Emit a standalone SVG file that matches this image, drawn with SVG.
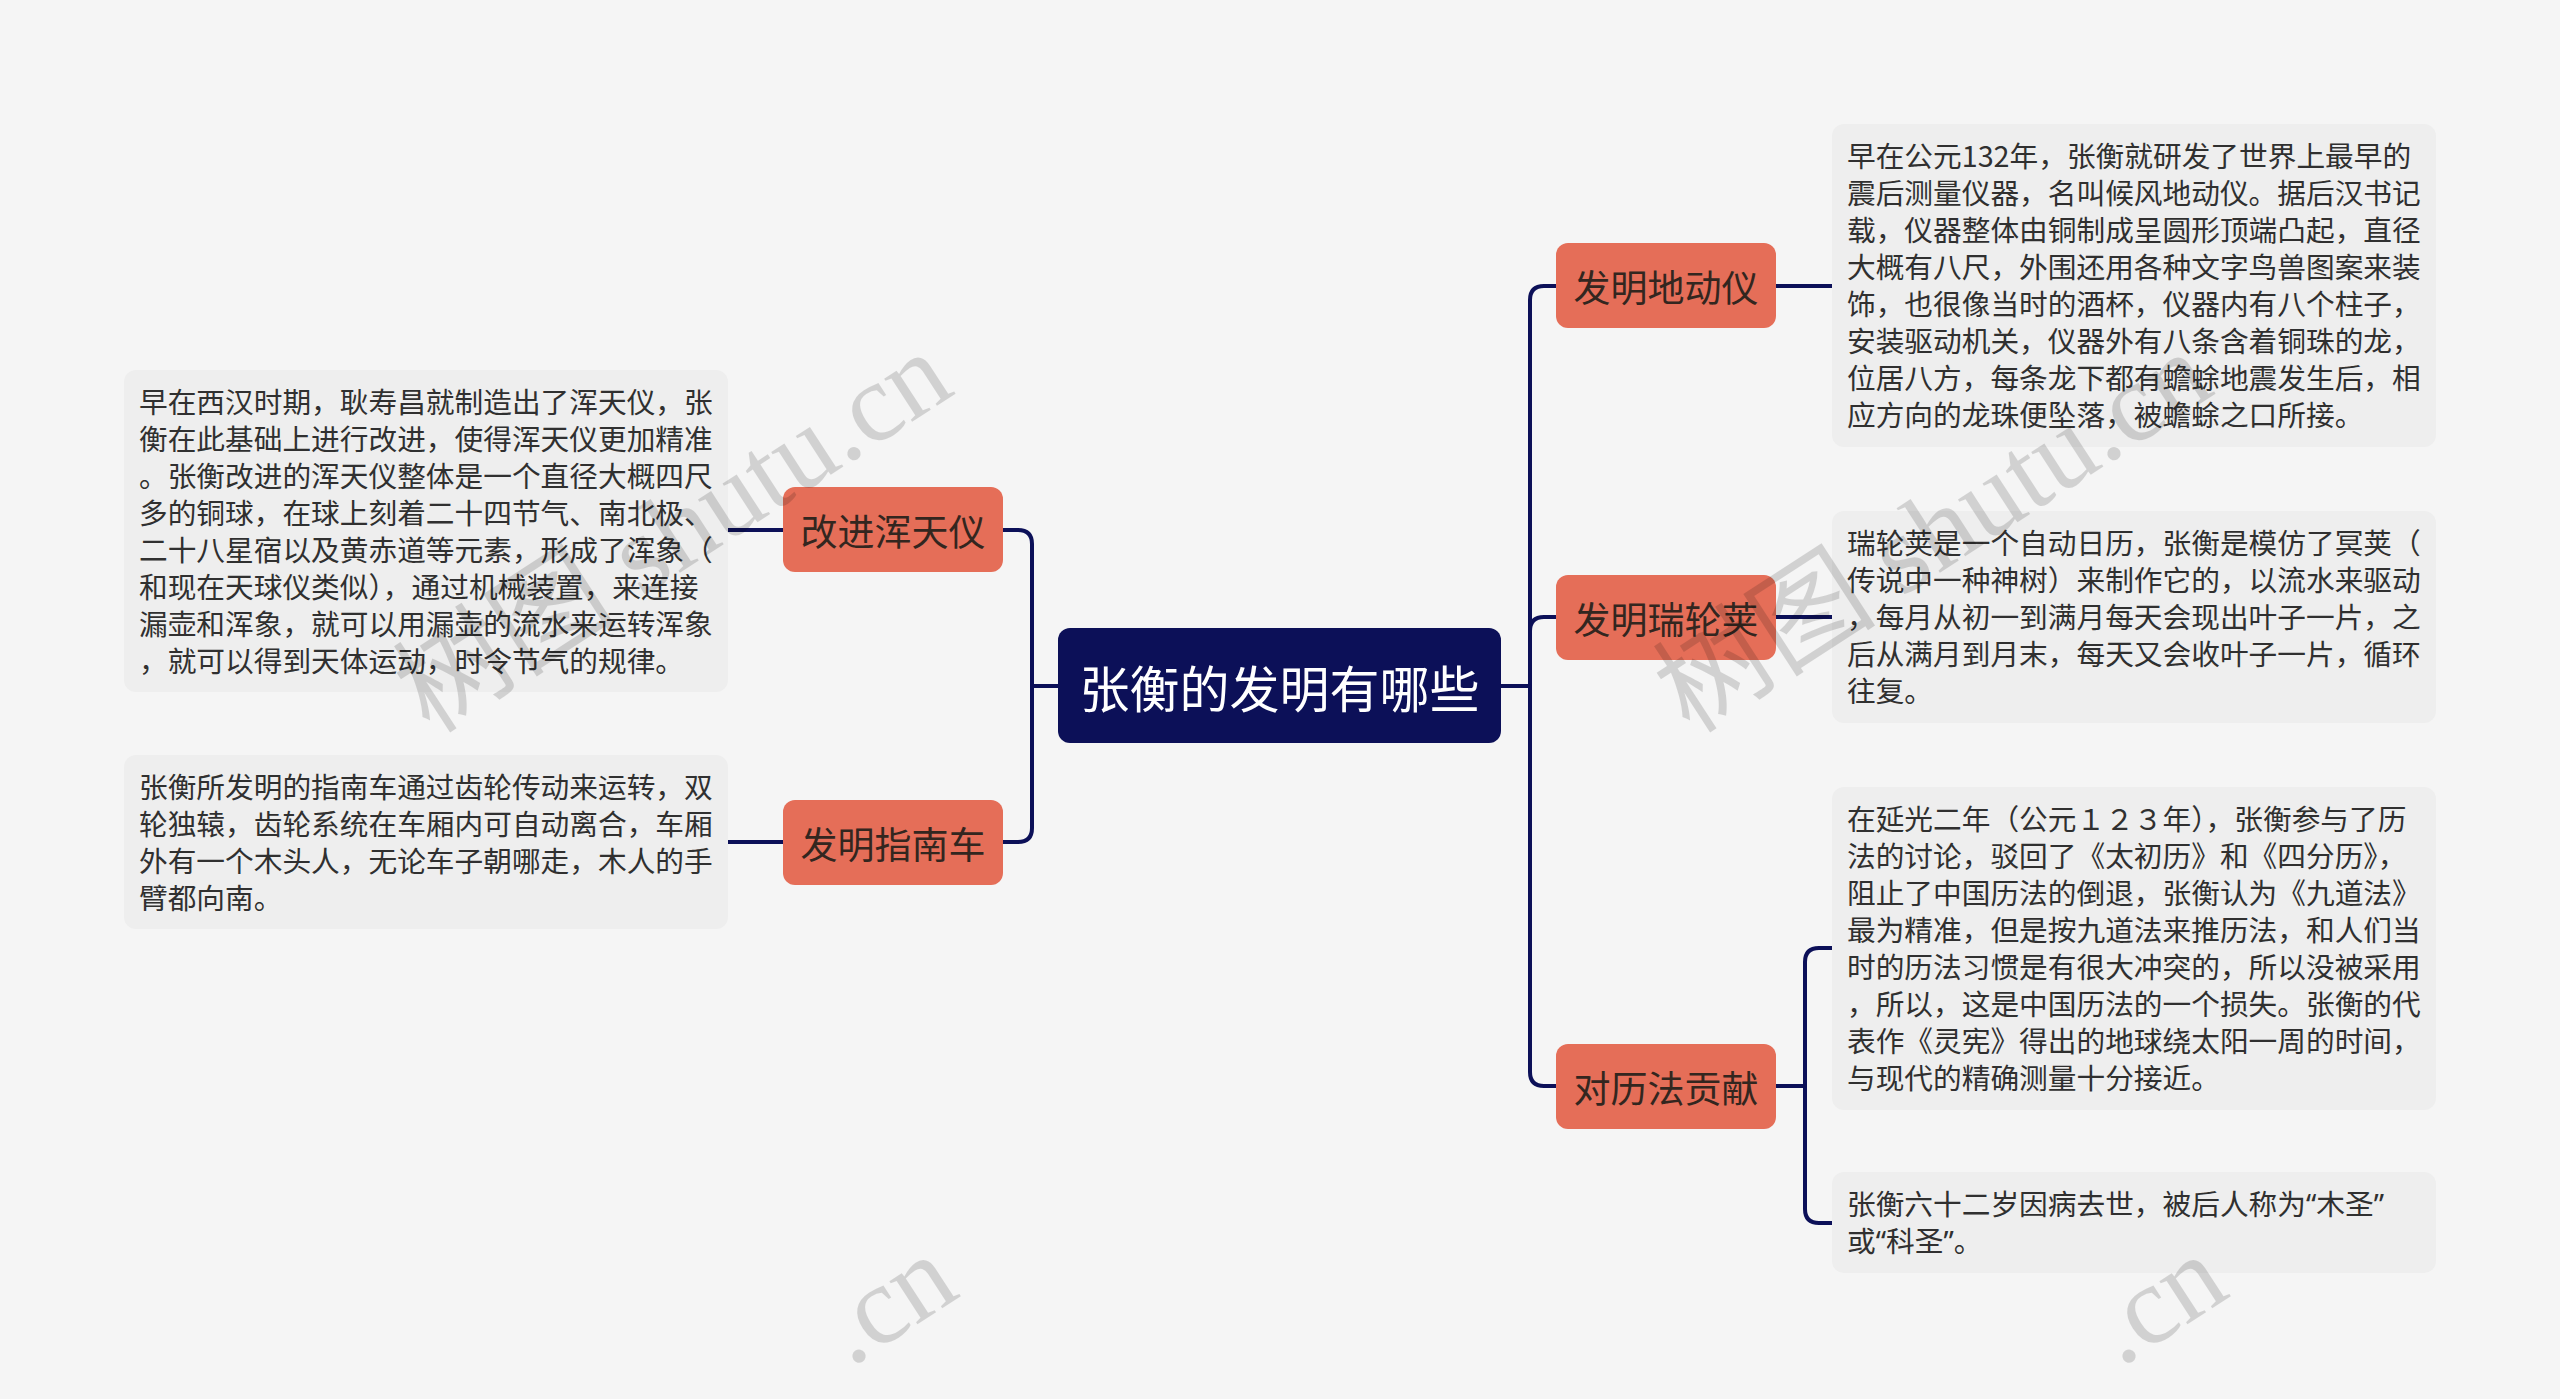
<svg xmlns="http://www.w3.org/2000/svg" width="2560" height="1399" viewBox="0 0 2560 1399">
<style>
.bg{fill:#f5f5f5}
.box{fill:#eeeeee}
.bt{font-family:"Noto Sans CJK SC","Noto Sans",sans-serif;font-size:28.7px;fill:#303030}
.q{font-family:"Noto Sans","Noto Sans CJK SC",sans-serif}
.node rect{fill:#e56e58}
.nt{font-family:"Noto Sans CJK SC","Noto Sans",sans-serif;font-size:37px;fill:#33261f;text-anchor:middle;dominant-baseline:central}
.ct{font-family:"Noto Sans CJK SC","Noto Sans",sans-serif;font-size:50px;fill:#ffffff;text-anchor:middle;dominant-baseline:central}
.ln{fill:none;stroke:#0c1058;stroke-width:4;stroke-linecap:round;stroke-linejoin:round}
.wm{font-family:"Liberation Serif","Noto Sans CJK SC",serif;font-size:112px;fill:#000;opacity:0.14}
</style>
<rect class="bg" x="0" y="0" width="2560" height="1399"/>

<g id="connectors">
<path class="ln" d="M1058,686 H1032"/>
<path class="ln" d="M1032,686 V544 Q1032,530 1018,530 H1003"/>
<path class="ln" d="M1032,686 V828 Q1032,842 1018,842 H1003"/>
<path class="ln" d="M783,530 H728"/>
<path class="ln" d="M783,842 H728"/>
<path class="ln" d="M1500,686 H1530"/>
<path class="ln" d="M1530,686 V300 Q1530,286 1544,286 H1556"/>
<path class="ln" d="M1530,686 V631 Q1530,617 1544,617 H1556"/>
<path class="ln" d="M1530,686 V1072 Q1530,1086 1544,1086 H1556"/>
<path class="ln" d="M1776,286 H1832"/>
<path class="ln" d="M1776,617 H1832"/>
<path class="ln" d="M1776,1086 H1805"/>
<path class="ln" d="M1805,1086 V962 Q1805,948 1819,948 H1832"/>
<path class="ln" d="M1805,1086 V1209 Q1805,1223 1819,1223 H1832"/>
</g>

<g id="root">
<rect x="1058" y="628" width="443" height="115" rx="12" fill="#0c1058"/>
<text class="ct" x="1279.5" y="686">张衡的发明有哪些</text>
</g>

<g id="n-huntianyi" class="node">
<rect x="783" y="487" width="220" height="85" rx="12"/>
<text class="nt" x="893" y="530">改进浑天仪</text>
</g>
<g id="n-zhinanche" class="node">
<rect x="783" y="800" width="220" height="85" rx="12"/>
<text class="nt" x="893" y="843">发明指南车</text>
</g>
<g id="n-didongyi" class="node">
<rect x="1556" y="243" width="220" height="85" rx="12"/>
<text class="nt" x="1666" y="286">发明地动仪</text>
</g>
<g id="n-ruilunjia" class="node">
<rect x="1556" y="575" width="220" height="85" rx="12"/>
<text class="nt" x="1666" y="618">发明瑞轮荚</text>
</g>
<g id="n-lifa" class="node">
<rect x="1556" y="1044" width="220" height="85" rx="12"/>
<text class="nt" x="1666" y="1087">对历法贡献</text>
</g>

<g id="d-huntianyi">
<rect class="box" x="124" y="370" width="604" height="322" rx="12"/>
<text class="bt">
<tspan x="139" y="413">早在西汉时期，耿寿昌就制造出了浑天仪，张</tspan>
<tspan x="139" y="450">衡在此基础上进行改进，使得浑天仪更加精准</tspan>
<tspan x="139" y="487">。张衡改进的浑天仪整体是一个直径大概四尺</tspan>
<tspan x="139" y="524">多的铜球，在球上刻着二十四节气、南北极、</tspan>
<tspan x="139" y="561">二十八星宿以及黄赤道等元素，形成了浑象（</tspan>
<tspan x="139" y="598">和现在天球仪类似），通过机械装置，来连接</tspan>
<tspan x="139" y="635">漏壶和浑象，就可以用漏壶的流水来运转浑象</tspan>
<tspan x="139" y="672">，就可以得到天体运动，时令节气的规律。</tspan>
</text>
</g>

<g id="d-zhinanche">
<rect class="box" x="124" y="755" width="604" height="174" rx="12"/>
<text class="bt">
<tspan x="139" y="798">张衡所发明的指南车通过齿轮传动来运转，双</tspan>
<tspan x="139" y="835">轮独辕，齿轮系统在车厢内可自动离合，车厢</tspan>
<tspan x="139" y="872">外有一个木头人，无论车子朝哪走，木人的手</tspan>
<tspan x="139" y="909">臂都向南。</tspan>
</text>
</g>

<g id="d-didongyi">
<rect class="box" x="1832" y="124" width="604" height="323" rx="12"/>
<text class="bt">
<tspan x="1847" y="167">早在公元132年，张衡就研发了世界上最早的</tspan>
<tspan x="1847" y="204">震后测量仪器，名叫候风地动仪。据后汉书记</tspan>
<tspan x="1847" y="241">载，仪器整体由铜制成呈圆形顶端凸起，直径</tspan>
<tspan x="1847" y="278">大概有八尺，外围还用各种文字鸟兽图案来装</tspan>
<tspan x="1847" y="315">饰，也很像当时的酒杯，仪器内有八个柱子，</tspan>
<tspan x="1847" y="352">安装驱动机关，仪器外有八条含着铜珠的龙，</tspan>
<tspan x="1847" y="389">位居八方，每条龙下都有蟾蜍地震发生后，相</tspan>
<tspan x="1847" y="426">应方向的龙珠便坠落，被蟾蜍之口所接。</tspan>
</text>
</g>

<g id="d-ruilunjia">
<rect class="box" x="1832" y="511" width="604" height="212" rx="12"/>
<text class="bt">
<tspan x="1847" y="554">瑞轮荚是一个自动日历，张衡是模仿了冥荚（</tspan>
<tspan x="1847" y="591">传说中一种神树）来制作它的，以流水来驱动</tspan>
<tspan x="1847" y="628">，每月从初一到满月每天会现出叶子一片，之</tspan>
<tspan x="1847" y="665">后从满月到月末，每天又会收叶子一片，循环</tspan>
<tspan x="1847" y="702">往复。</tspan>
</text>
</g>

<g id="d-lifa">
<rect class="box" x="1832" y="787" width="604" height="323" rx="12"/>
<text class="bt">
<tspan x="1847" y="830">在延光二年（公元１２３年），张衡参与了历</tspan>
<tspan x="1847" y="867">法的讨论，驳回了《太初历》和《四分历》，</tspan>
<tspan x="1847" y="904">阻止了中国历法的倒退，张衡认为《九道法》</tspan>
<tspan x="1847" y="941">最为精准，但是按九道法来推历法，和人们当</tspan>
<tspan x="1847" y="978">时的历法习惯是有很大冲突的，所以没被采用</tspan>
<tspan x="1847" y="1015">，所以，这是中国历法的一个损失。张衡的代</tspan>
<tspan x="1847" y="1052">表作《灵宪》得出的地球绕太阳一周的时间，</tspan>
<tspan x="1847" y="1089">与现代的精确测量十分接近。</tspan>
</text>
</g>

<g id="d-kesheng">
<rect class="box" x="1832" y="1172" width="604" height="101" rx="12"/>
<text class="bt">
<tspan x="1847" y="1215">张衡六十二岁因病去世，被后人称为<tspan class="q">“</tspan>木圣<tspan class="q">”</tspan></tspan>
<tspan x="1847" y="1252">或<tspan class="q">“</tspan>科圣<tspan class="q">”</tspan>。</tspan>
</text>
</g>

<g id="watermarks">
<text class="wm" transform="translate(430,735) rotate(-33)">树图 shutu.cn</text>
<text class="wm" transform="translate(1690,735) rotate(-33)">树图 shutu.cn</text>
<text class="wm" transform="translate(850,1368) rotate(-33)">.cn</text>
<text class="wm" transform="translate(2120,1368) rotate(-33)">.cn</text>
</g>
</svg>
